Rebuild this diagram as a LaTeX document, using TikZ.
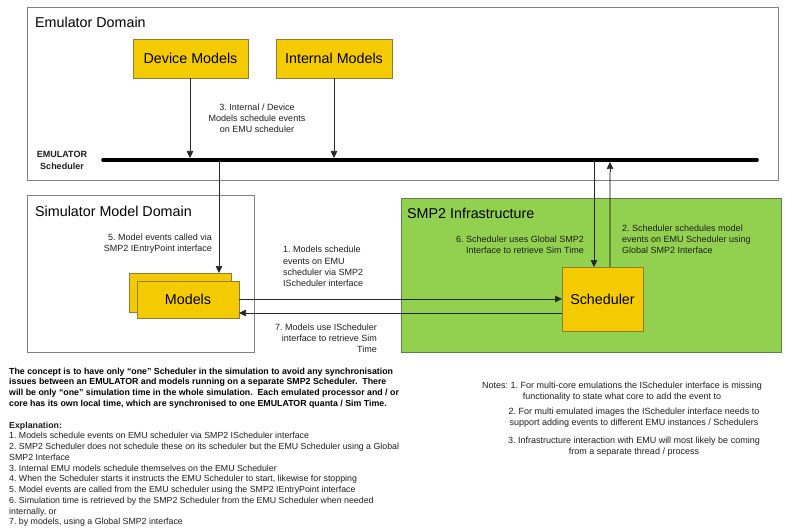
\documentclass[tikz,border=0pt]{standalone}
\usepackage{fontspec}
\setmainfont{Liberation Sans}
\usetikzlibrary{arrows.meta}
\definecolor{boxyellow}{HTML}{F4CB00}
\definecolor{boxedge}{HTML}{8F7D35}
\definecolor{infragreen}{HTML}{92D050}
\definecolor{greenedge}{HTML}{5F7F4A}
\definecolor{domainedge}{HTML}{808080}
\definecolor{txt}{HTML}{1E1E1E}
\tikzset{
  domainbox/.style={draw=domainedge, line width=0.8pt, fill=white},
  ybox/.style={draw=boxedge, line width=0.8pt, fill=boxyellow},
  bigtext/.style={font=\fontsize{14.3}{16}\selectfont, text=black, inner sep=0pt},
  lbl/.style={font=\fontsize{9}{11.2}\selectfont, text=txt, inner sep=0pt},
  conn/.style={draw=black!85, line width=0.6pt, -{Triangle[length=7pt,width=6.5pt]}},
  connup/.style={draw=black, line width=1.4pt, opacity=0.35},
}
\begin{document}
\frenchspacing
\begin{tikzpicture}[x=1pt,y=-1pt]
\useasboundingbox (0,0) rectangle (785,532);
% Emulator domain
\draw[domainbox] (27,7) rectangle (778,180);
\node[bigtext, anchor=west] (emutitle) at (35,22) {Emulator Domain};
\draw[ybox] (133,39) rectangle (248,78);
\node[bigtext] (device) at (190.5,58.5) {Device Models};
\coordinate (devbot) at (190,78);
\draw[ybox] (276,39) rectangle (392,78);
\node[bigtext] (internal) at (334,58.5) {Internal Models};
\coordinate (intbot) at (334,78);
% scheduler bar
\coordinate (barL) at (103,160);
\coordinate (barR) at (757,160);
\draw[line width=3.6pt, line cap=round] (barL) -- (barR);
\node[lbl, font=\fontsize{9}{11.2}\selectfont\bfseries, align=center] (emusched) at (62,160.5) {EMULATOR\\Scheduler};
\node[lbl, align=center] (lbl3) at (257,118.5) {3. Internal / Device\\Models schedule events\\on EMU scheduler};
\coordinate (dev_on_bar) at (190,158);
\coordinate (int_on_bar) at (334,158);
\draw[conn] (devbot) -- (dev_on_bar);
\draw[conn] (intbot) -- (int_on_bar);
% Simulator model domain
\draw[domainbox] (27,195) rectangle (254,352);
\node[bigtext, anchor=west] (simtitle) at (35,211) {Simulator Model Domain};
\node[lbl, align=right, anchor=east] (lbl5) at (212,243.5) {5. Model events called via\\SMP2 IEntryPoint interface};
\draw[ybox] (129,273) rectangle (231,312);
\draw[ybox] (137,281) rectangle (239,318);
\node[bigtext] (models) at (188,299) {Models};
% SMP2 infrastructure
\draw[draw=greenedge, line width=0.8pt, fill=infragreen] (401,198) rectangle (781,352);
\node[bigtext, anchor=west] (smptitle) at (407,213) {SMP2 Infrastructure};
\draw[ybox] (562,267) rectangle (643,331);
\node[bigtext] (sched) at (602.5,299) {Scheduler};
\node[lbl, align=right, anchor=east] (lbl6) at (584,244.5) {6. Scheduler uses Global SMP2\\Interface to retrieve Sim Time};
\node[lbl, align=left, anchor=west] (lbl2) at (622,239) {2. Scheduler schedules model\\events on EMU Scheduler using\\Global SMP2 Interface};
% connectors between domains
\coordinate (b1) at (219,160);
\coordinate (m1) at (219,273);
\draw[conn] (b1) -- (m1);
\coordinate (b2) at (594,160);
\coordinate (s2) at (594,267);
\draw[conn] (b2) -- (s2);
\coordinate (s3) at (610,267);
\coordinate (b3) at (610,162);
\coordinate (b3tail) at (610,172);
\draw[connup] (s3) -- (b3tail);
\draw[conn] (b3tail) -- (b3);
\coordinate (mR1) at (239,299);
\coordinate (sL1) at (562,299);
\draw[conn] (mR1) -- (sL1);
\coordinate (sL2) at (562,313);
\coordinate (mR2) at (239,313);
\draw[conn] (sL2) -- (mR2);
\node[lbl, align=left, anchor=west] (lbl1) at (283,266.5) {1. Models schedule\\events on EMU\\scheduler via SMP2\\IScheduler interface};
\node[lbl, align=right, anchor=east] (lbl7) at (377,338) {7. Models use IScheduler\\interface to retrieve Sim\\Time};
% bottom text
\node[lbl, font=\fontsize{8.8}{10.8}\selectfont\bfseries, align=left, anchor=north west, text=black] (concept) at (9,367.5) {The concept is to have only “one” Scheduler in the simulation to avoid any synchronisation\\issues between an EMULATOR and models running on a separate SMP2 Scheduler.\ \ There\\will be only “one” simulation time in the whole simulation.\ \ Each emulated processor and / or\\core has its own local time, which are synchronised to one EMULATOR quanta / Sim Time.};
\node[lbl, font=\fontsize{8.8}{10.75}\selectfont, align=left, anchor=north west] (explain) at (9,421.5) {\textbf{Explanation:}\\1. Models schedule events on EMU scheduler via SMP2 IScheduler interface\\2. SMP2 Scheduler does not schedule these on its scheduler but the EMU Scheduler using a Global\\SMP2 Interface\\3. Internal EMU models schedule themselves on the EMU Scheduler\\4. When the Scheduler starts it instructs the EMU Scheduler to start, likewise for stopping\\5. Model events are called from the EMU scheduler using the SMP2 IEntryPoint interface\\6. Simulation time is retrieved by the SMP2 Scheduler from the EMU Scheduler when needed\\internally, or\\7. by models, using a Global SMP2 interface};
% notes
\node[lbl, align=center] (note1) at (622,391.5) {Notes: 1. For multi-core emulations the IScheduler interface is missing\\functionality to state what core to add the event to};
\node[lbl, align=center] (note2) at (634,418) {2. For multi emulated images the IScheduler interface needs to\\support adding events to different EMU instances / Schedulers};
\node[lbl, align=center] (note3) at (634,446.5) {3. Infrastructure interaction with EMU will most likely be coming\\from a separate thread / process};
\end{tikzpicture}
\end{document}
